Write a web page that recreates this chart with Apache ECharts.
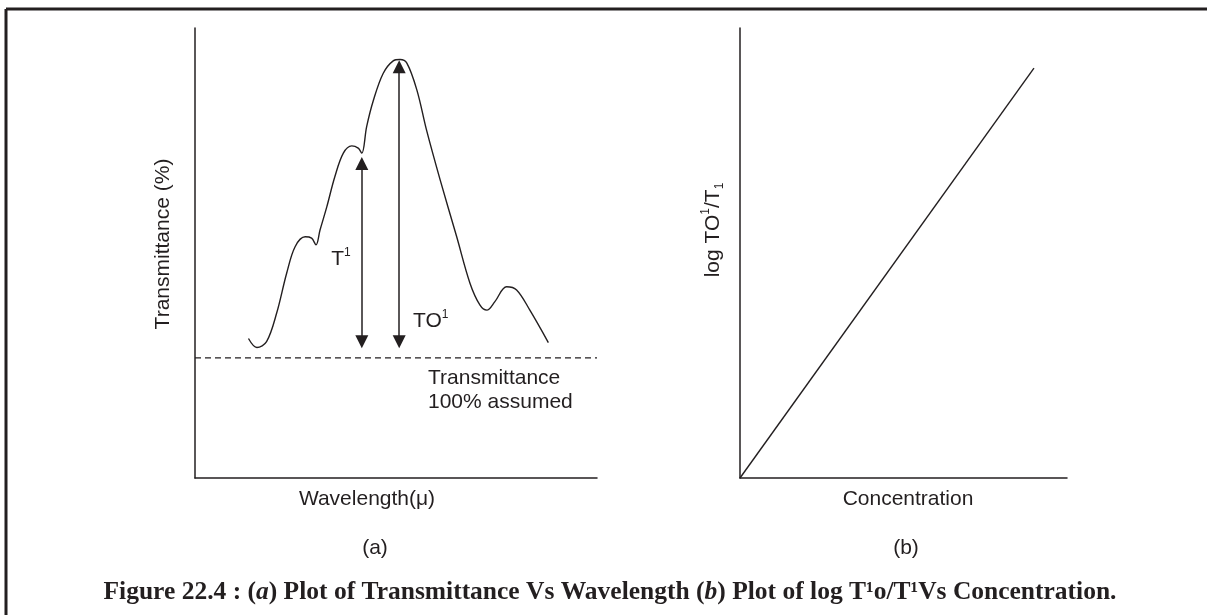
<!DOCTYPE html>
<html>
<head>
<meta charset="utf-8">
<title>Figure 22.4</title>
<script src="https://cdn.jsdelivr.net/npm/echarts@6/dist/echarts.min.js"></script>
<style>
  html, body { margin: 0; padding: 0; background: #fff; }
  #chart { width: 1207px; height: 615px; }
</style>
</head>
<body>
<div id="chart"></div>
<script>
// (a) transmittance curve, arbitrary units on both axes (0-100)
var waveX = [13.3, 15.4, 17.8, 20.3, 22.8, 24.9, 27.4, 29.0, 30.1, 31.1, 32.8, 34.8, 36.9, 39.0, 40.6, 41.5,
             42.7, 44.4, 46.8, 49.3, 51.0, 52.7, 55.2, 57.6, 61.0, 65.1, 68.4, 70.9, 72.6, 74.6, 77.5, 80.0, 83.3, 87.9];
var transY = [31.0, 29.0, 30.3, 36.6, 45.5, 51.4, 53.6, 53.3, 51.8, 55.1, 60.3, 67.0, 72.2, 73.8, 73.3, 72.2,
              78.1, 84.0, 89.9, 92.7, 93.0, 92.2, 86.2, 77.3, 66.2, 53.6, 43.3, 38.4, 37.3, 39.2, 42.5, 41.8, 37.3, 30.1];
// "100% assumed" reference level
var baselineY = 26.7;
// the two double arrows: T1 and TO1
var arrowX = [41.5, 50.8];
var arrowLow = [30.3, 30.3];
var arrowHigh = [69.9, 91.4];

// (b) straight line, log TO1/T1 vs concentration
var concX = [0, 89.9];
var logY = [0, 91.1];

var ink = '#231f20';
var sans = '"Liberation Sans", Arial, sans-serif';
var serif = '"Liberation Serif", "Times New Roman", serif';

var curve = waveX.map(function (x, i) { return [x, transY[i]]; });
var straight = concX.map(function (x, i) { return [x, logY[i]]; });
var arrows = arrowX.map(function (x, i) {
  return [{ coord: [x, arrowLow[i]] }, { coord: [x, arrowHigh[i]] }];
});

// small raised / lowered digits for the labels
var scripts = {
  sup: { font: '12px ' + sans, fill: ink, verticalAlign: 'top' },
  sub: { font: '12px ' + sans, fill: ink, verticalAlign: 'bottom' }
};

function axisX(idx) {
  return {
    type: 'value', gridIndex: idx, min: 0, max: 100,
    axisLine: { show: true, lineStyle: { color: ink, width: 1.5 } },
    axisTick: { show: false }, axisLabel: { show: false }, splitLine: { show: false }
  };
}
function axisY(idx) {
  return {
    type: 'value', gridIndex: idx, min: 0, max: 100,
    axisLine: { show: true, lineStyle: { color: ink, width: 1.5 } },
    axisTick: { show: false }, axisLabel: { show: false }, splitLine: { show: false }
  };
}
function label(x, y, text, opts) {
  opts = opts || {};
  return {
    type: 'text', x: x, y: y, rotation: opts.rotation || 0, silent: true,
    style: {
      text: text, fill: ink, font: opts.font || ('21px ' + sans),
      align: opts.align || 'center', verticalAlign: 'middle',
      lineHeight: opts.lineHeight, rich: opts.rich
    }
  };
}

var myChart = echarts.init(document.getElementById('chart'));
var option = {
  animation: false,
  backgroundColor: '#fff',
  grid: [
    { left: 195, top: 28, width: 402, height: 450 },
    { left: 740, top: 28, width: 327, height: 450 }
  ],
  xAxis: [axisX(0), axisX(1)],
  yAxis: [axisY(0), axisY(1)],
  graphic: [
    // figure frame (top and left rules)
    { type: 'line', silent: true, shape: { x1: 6, y1: 9, x2: 1207, y2: 9 }, style: { stroke: ink, lineWidth: 3 } },
    { type: 'line', silent: true, shape: { x1: 6, y1: 9, x2: 6, y2: 615 }, style: { stroke: ink, lineWidth: 3 } },
    label(163, 244, 'Transmittance (%)', { rotation: Math.PI / 2 }),
    label(367, 499, 'Wavelength(\u03bc)'),
    label(375, 548, '(a)'),
    label(341, 259, 'T{sup|1}', { rich: scripts, lineHeight: 24 }),
    label(413, 321, 'TO{sup|1}', { align: 'left', rich: scripts, lineHeight: 24 }),
    label(428, 390, 'Transmittance\n100% assumed', { align: 'left', lineHeight: 24 }),
    label(713, 230, 'log TO{sup|1}/T{sub|1}', { rotation: Math.PI / 2, rich: scripts, lineHeight: 26 }),
    label(908, 499, 'Concentration'),
    label(906, 548, '(b)'),
    label(610, 592, 'Figure 22.4 : ({i|a}) Plot of Transmittance Vs Wavelength ({i|b}) Plot of log T\u00b9o/T\u00b9Vs Concentration.', {
      font: 'bold 25.5px ' + serif,
      rich: { i: { font: 'italic bold 25.5px ' + serif, fill: ink } }
    })
  ],
  series: [
    {
      name: 'transmittance', type: 'line', xAxisIndex: 0, yAxisIndex: 0,
      data: curve, smooth: 0.35, showSymbol: false, silent: true,
      lineStyle: { color: ink, width: 1.4 },
      markLine: {
        silent: true, symbol: ['triangle', 'triangle'], symbolSize: [13, 13],
        label: { show: false },
        lineStyle: { color: ink, width: 1.5, type: 'solid' },
        emphasis: { disabled: true },
        data: arrows
      }
    },
    {
      name: 'baseline', type: 'line', xAxisIndex: 0, yAxisIndex: 0,
      data: [[0, baselineY], [100, baselineY]], showSymbol: false, silent: true,
      lineStyle: { color: ink, width: 1.2, type: [6, 4] }
    },
    {
      name: 'concentration', type: 'line', xAxisIndex: 1, yAxisIndex: 1,
      data: straight, showSymbol: false, silent: true,
      lineStyle: { color: ink, width: 1.4 }
    }
  ]
};
myChart.setOption(option);
</script>
</body>
</html>
